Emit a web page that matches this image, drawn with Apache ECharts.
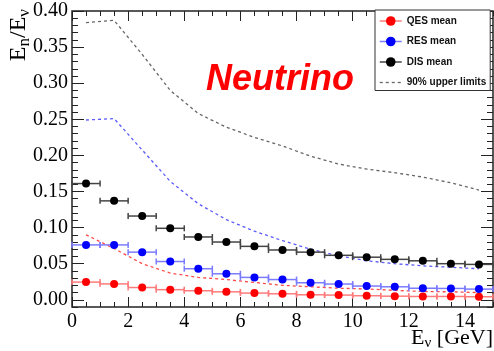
<!DOCTYPE html>
<html>
<head>
<meta charset="utf-8">
<script src="https://cdn.jsdelivr.net/npm/echarts@6/dist/echarts.min.js"></script>
<style>html,body{margin:0;padding:0;background:#fff;}#c{width:494px;height:351px;}</style>
</head>
<body>
<div id="c"></div>
<script>
const binCenters = [0.5,1.5,2.5,3.5,4.5,5.5,6.5,7.5,8.5,9.5,10.5,11.5,12.5,13.5,14.5];
const qesMean = [0.0245,0.022,0.017,0.014,0.0125,0.011,0.0093,0.0083,0.0069,0.0065,0.0056,0.005,0.0046,0.0046,0.0042];
const resMean = [0.076,0.076,0.066,0.053,0.043,0.036,0.031,0.028,0.0236,0.0218,0.019,0.018,0.016,0.0157,0.0148];
const disMean = [0.161,0.137,0.116,0.099,0.087,0.080,0.074,0.069,0.066,0.0616,0.059,0.056,0.054,0.050,0.049];
const qesLimit = [0.090,0.071,0.050,0.037,0.031,0.028,0.024,0.020,0.018,0.016,0.015,0.013,0.0115,0.011,0.010];
const resLimit = [0.249,0.251,0.2075,0.164,0.133,0.111,0.095,0.082,0.070,0.061,0.054,0.050,0.047,0.045,0.043];
const disLimit = [0.384,0.387,0.340,0.290,0.258,0.239,0.225,0.213,0.199,0.188,0.181,0.176,0.170,0.162,0.152];
const yTickLabels = [0,0.05,0.10,0.15,0.20,0.25,0.30,0.35,0.40];
const yMinorTicks = [-0.01,0,0.01,0.02,0.03,0.04,0.05,0.06,0.07,0.08,0.09,0.10,0.11,0.12,0.13,0.14,0.15,0.16,0.17,0.18,0.19,0.20,0.21,0.22,0.23,0.24,0.25,0.26,0.27,0.28,0.29,0.30,0.31,0.32,0.33,0.34,0.35,0.36,0.37,0.38,0.39,0.40];
const xTickLabels = [0,2,4,6,8,10,12,14];
const xMinorTicks = [0,0.5,1,1.5,2,2.5,3,3.5,4,4.5,5,5.5,6,6.5,7,7.5,8,8.5,9,9.5,10,10.5,11,11.5,12,12.5,13,13.5,14,14.5,15];
const binHalfWidth = 0.5;

const pairs = arr => binCenters.map((x, i) => [x, arr[i]]);
const serif = 'Liberation Serif';
const sans = 'Liberation Sans';
const frameColor = '#222';

function errBarSeries(name, arr, color) {
  return {
    type: 'custom', name: name, data: pairs(arr), z: 3, silent: true,
    renderItem: function (params, api) {
      const x = api.value(0), y = api.value(1);
      const a = api.coord([x - binHalfWidth, y]);
      const b = api.coord([x + binHalfWidth, y]);
      const st = { stroke: color, lineWidth: 1.5 };
      return { type: 'group', children: [
        { type: 'line', shape: { x1: a[0], y1: a[1], x2: b[0], y2: b[1] }, style: st },
        { type: 'line', shape: { x1: a[0], y1: a[1] - 3, x2: a[0], y2: a[1] + 3 }, style: st },
        { type: 'line', shape: { x1: b[0], y1: b[1] - 3, x2: b[0], y2: b[1] + 3 }, style: st }
      ]};
    }
  };
}
function dotSeries(name, arr, color) {
  return {
    type: 'line', name: name, data: pairs(arr), z: 4,
    symbol: 'circle', symbolSize: 8, showSymbol: true,
    itemStyle: { color: color },
    lineStyle: { opacity: 0 }
  };
}
function limitSeries(name, arr, color) {
  return {
    type: 'line', name: name, data: pairs(arr), z: 2,
    symbol: 'none', showSymbol: false,
    lineStyle: { color: color, width: 1.3, type: [3, 3] }
  };
}

function axis(pos, kind, len, ticks, labels) {
  const a = { type: 'value', position: pos,
    axisLine: { show: false, onZero: false }, splitLine: { show: false },
    axisTick: { inside: true, length: len, customValues: ticks, lineStyle: { color: frameColor, width: 1 } },
    axisLabel: { show: false } };
  if (kind === 'x') { a.min = 0; a.max = 15; } else { a.min = -0.01; a.max = 0.40; }
  if (labels) {
    a.axisLabel = { show: true, customValues: labels, fontFamily: serif, fontSize: 20, color: '#000',
                    margin: kind === 'x' ? 5 : 4 };
    if (kind === 'y') a.axisLabel.formatter = v => v.toFixed(2);
  }
  return a;
}

const chart = echarts.init(document.getElementById('c'), null, { renderer: 'canvas' });
chart.setOption({
  animation: false,
  backgroundColor: '#fff',
  grid: { left: 72, right: 1, top: 11, bottom: 44, containLabel: false, outerBoundsMode: 'none',
          show: true, borderColor: frameColor, borderWidth: 1.5, backgroundColor: 'transparent' },
  xAxis: [
    axis('bottom', 'x', 10, xTickLabels, xTickLabels),
    axis('bottom', 'x', 5, xMinorTicks),
    axis('top', 'x', 10, xTickLabels),
    axis('top', 'x', 5, xMinorTicks)
  ],
  yAxis: [
    axis('left', 'y', 12, yTickLabels, yTickLabels),
    axis('left', 'y', 6, yMinorTicks),
    axis('right', 'y', 12, yTickLabels),
    axis('right', 'y', 6, yMinorTicks)
  ],
  legend: {
    orient: 'vertical', left: 375, top: 10,
    backgroundColor: '#fff', borderColor: '#333', borderWidth: 1,
    padding: [6, 4, 3, 4], itemGap: 10.5, itemWidth: 22, itemHeight: 12,
    textStyle: { fontFamily: sans, fontWeight: 'bold', fontSize: 10, color: '#111' },
    data: [
      { name: 'QES mean', lineStyle: { opacity: 1, color: '#ff7b7b', width: 1.5, type: 'solid' } },
      { name: 'RES mean', lineStyle: { opacity: 1, color: '#7b7bff', width: 1.5, type: 'solid' } },
      { name: 'DIS mean', lineStyle: { opacity: 1, color: '#444', width: 1.5, type: 'solid' } },
      { name: '90% upper limits', itemStyle: { opacity: 0 }, lineStyle: { color: '#666', width: 1.3, type: [3, 3] } }
    ]
  },
  graphic: [
    { type: 'text', x: 280, y: 80, z: 10,
      style: { text: 'Neutrino', fill: '#ff0000', fontFamily: sans, fontWeight: 'bold', fontStyle: 'italic',
               fontSize: 36, align: 'center', verticalAlign: 'middle' } },
    { type: 'text', x: 493, y: 338, z: 10,
      style: { text: '{m|E}{s|ν}{m| [GeV]}', align: 'right', verticalAlign: 'middle',
               rich: { m: { fontFamily: serif, fontSize: 22, lineHeight: 26, fill: '#000' },
                       s: { fontFamily: serif, fontSize: 15, lineHeight: 10, verticalAlign: 'bottom', fill: '#000' } } } },
    { type: 'text', x: 19, y: 9, rotation: Math.PI / 2, z: 10,
      style: { text: '{m|E}{s|n}{m|/E}{s|ν}', align: 'right', verticalAlign: 'middle',
               rich: { m: { fontFamily: serif, fontSize: 24, lineHeight: 28, fill: '#000' },
                       s: { fontFamily: serif, fontSize: 17, lineHeight: 11, verticalAlign: 'bottom', fill: '#000' } } } }
  ],
  series: [
    limitSeries('QES limit', qesLimit, '#ff4a4a'),
    limitSeries('RES limit', resLimit, '#5a5aff'),
    limitSeries('90% upper limits', disLimit, '#666'),
    errBarSeries('QES err', qesMean, '#ff7b7b'),
    errBarSeries('RES err', resMean, '#7b7bff'),
    errBarSeries('DIS err', disMean, '#444'),
    dotSeries('QES mean', qesMean, '#ff0000'),
    dotSeries('RES mean', resMean, '#0000ff'),
    dotSeries('DIS mean', disMean, '#000')
  ]
});
</script>
</body>
</html>
